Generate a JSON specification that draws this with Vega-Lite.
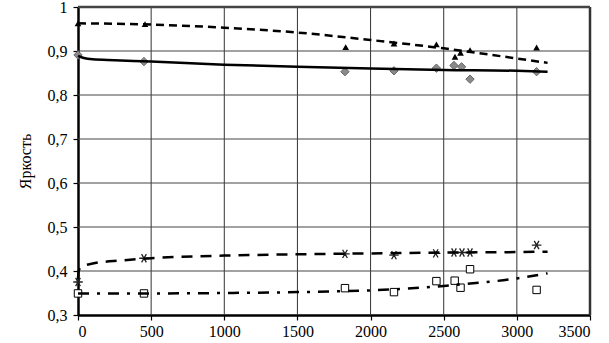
{
  "$schema": "https://vega.github.io/schema/vega-lite/v6.json",
  "width": 512,
  "height": 308,
  "autosize": {"type": "none"},
  "padding": {"left": 78, "top": 7, "right": 19, "bottom": 28},
  "view": {"stroke": null},
  "datasets": {
    "gx": [{"x": 500, "w": 1}, {"x": 1000, "w": 1}, {"x": 1500, "w": 1}, {"x": 2000, "w": 1}, {"x": 2500, "w": 1}, {"x": 3000, "w": 1}, {"x": 3500, "w": 2.5}],
    "gy": [{"y": 0.4, "w": 1}, {"y": 0.5, "w": 1}, {"y": 0.6, "w": 1}, {"y": 0.7, "w": 1}, {"y": 0.8, "w": 1}, {"y": 0.9, "w": 1}, {"y": 1, "w": 2.5}],
    "pts": [
      {"s": "A", "x": 0, "y": 0.963},
      {"s": "A", "x": 458, "y": 0.961},
      {"s": "A", "x": 1830, "y": 0.909},
      {"s": "A", "x": 2160, "y": 0.917},
      {"s": "A", "x": 2450, "y": 0.915},
      {"s": "A", "x": 2577, "y": 0.887},
      {"s": "A", "x": 2615, "y": 0.896},
      {"s": "A", "x": 2680, "y": 0.902},
      {"s": "A", "x": 3135, "y": 0.908},
      {"s": "B", "x": 0, "y": 0.891},
      {"s": "B", "x": 451, "y": 0.876},
      {"s": "B", "x": 1825, "y": 0.853},
      {"s": "B", "x": 2160, "y": 0.855},
      {"s": "B", "x": 2450, "y": 0.861},
      {"s": "B", "x": 2570, "y": 0.867},
      {"s": "B", "x": 2622, "y": 0.864},
      {"s": "B", "x": 2680, "y": 0.836},
      {"s": "B", "x": 3135, "y": 0.853},
      {"s": "C", "x": 0, "y": 0.375},
      {"s": "C", "x": 451, "y": 0.429},
      {"s": "C", "x": 1825, "y": 0.439},
      {"s": "C", "x": 2160, "y": 0.436},
      {"s": "C", "x": 2445, "y": 0.440},
      {"s": "C", "x": 2570, "y": 0.442},
      {"s": "C", "x": 2625, "y": 0.442},
      {"s": "C", "x": 2680, "y": 0.442},
      {"s": "C", "x": 3135, "y": 0.459},
      {"s": "D", "x": 0, "y": 0.349},
      {"s": "D", "x": 451, "y": 0.349},
      {"s": "D", "x": 1825, "y": 0.361},
      {"s": "D", "x": 2160, "y": 0.352},
      {"s": "D", "x": 2450, "y": 0.377},
      {"s": "D", "x": 2575, "y": 0.378},
      {"s": "D", "x": 2615, "y": 0.362},
      {"s": "D", "x": 2680, "y": 0.404},
      {"s": "D", "x": 3135, "y": 0.357}
    ],
    "trend": [
      {"s": "A", "x": 0, "y": 0.963},
      {"s": "A", "x": 500, "y": 0.960},
      {"s": "A", "x": 1000, "y": 0.953},
      {"s": "A", "x": 1500, "y": 0.942},
      {"s": "A", "x": 2000, "y": 0.925},
      {"s": "A", "x": 2500, "y": 0.906},
      {"s": "A", "x": 3000, "y": 0.883},
      {"s": "A", "x": 3210, "y": 0.873},
      {"s": "B", "x": 0, "y": 0.889},
      {"s": "B", "x": 40, "y": 0.884},
      {"s": "B", "x": 100, "y": 0.881},
      {"s": "B", "x": 250, "y": 0.879},
      {"s": "B", "x": 500, "y": 0.876},
      {"s": "B", "x": 1000, "y": 0.869},
      {"s": "B", "x": 1500, "y": 0.864},
      {"s": "B", "x": 2000, "y": 0.860},
      {"s": "B", "x": 2500, "y": 0.857},
      {"s": "B", "x": 3000, "y": 0.855},
      {"s": "B", "x": 3210, "y": 0.853},
      {"s": "C", "x": 0, "y": 0.382},
      {"s": "C", "x": 5, "y": 0.400},
      {"s": "C", "x": 20, "y": 0.409},
      {"s": "C", "x": 100, "y": 0.417},
      {"s": "C", "x": 300, "y": 0.424},
      {"s": "C", "x": 500, "y": 0.429},
      {"s": "C", "x": 1000, "y": 0.435},
      {"s": "C", "x": 1500, "y": 0.438},
      {"s": "C", "x": 2000, "y": 0.440},
      {"s": "C", "x": 2500, "y": 0.442},
      {"s": "C", "x": 3000, "y": 0.443},
      {"s": "C", "x": 3210, "y": 0.444},
      {"s": "D", "x": 0, "y": 0.349},
      {"s": "D", "x": 500, "y": 0.349},
      {"s": "D", "x": 1000, "y": 0.350},
      {"s": "D", "x": 1500, "y": 0.352},
      {"s": "D", "x": 1800, "y": 0.354},
      {"s": "D", "x": 2000, "y": 0.356},
      {"s": "D", "x": 2200, "y": 0.359},
      {"s": "D", "x": 2500, "y": 0.366},
      {"s": "D", "x": 2700, "y": 0.372},
      {"s": "D", "x": 3000, "y": 0.383},
      {"s": "D", "x": 3210, "y": 0.395}
    ]
  },
  "layer": [
    {
      "data": {"name": "gx"},
      "mark": {"type": "rule", "color": "#333333"},
      "encoding": {
        "x": {
          "field": "x",
          "type": "quantitative",
          "scale": {"domain": [0, 3500], "nice": false, "zero": false},
          "axis": {
            "title": null,
            "values": [0, 500, 1000, 1500, 2000, 2500, 3000, 3500],
            "format": "d",
            "labelFont": "Liberation Serif",
            "labelFontSize": 16,
            "labelColor": "black",
            "labelPadding": 3,
            "grid": false,
            "domainColor": "black",
            "domainWidth": 2.5,
            "tickColor": "black",
            "tickSize": 5,
            "tickWidth": 1.2
          }
        },
        "y": {"datum": 0.3, "type": "quantitative"},
        "y2": {"datum": 1},
        "strokeWidth": {"field": "w", "type": "quantitative", "scale": null}
      }
    },
    {
      "data": {"name": "gy"},
      "mark": {"type": "rule", "color": "#444444"},
      "encoding": {
        "y": {
          "field": "y",
          "type": "quantitative",
          "scale": {"domain": [0.3, 1], "nice": false, "zero": false},
          "axis": {
            "title": "Яркость",
            "titleFont": "Liberation Serif",
            "titleFontSize": 16,
            "titleFontWeight": "normal",
            "titleColor": "black",
            "titlePadding": 14,
            "values": [0.3, 0.4, 0.5, 0.6, 0.7, 0.8, 0.9, 1],
            "labelExpr": "datum.value == 1 ? '1' : replace(format(datum.value, '.1f'), '.', ',')",
            "labelFont": "Liberation Serif",
            "labelFontSize": 16,
            "labelColor": "black",
            "labelPadding": 6,
            "grid": false,
            "domainColor": "black",
            "domainWidth": 2.5,
            "tickColor": "black",
            "tickSize": 5,
            "tickWidth": 1.2
          }
        },
        "x": {"datum": 0, "type": "quantitative"},
        "x2": {"datum": 3500},
        "strokeWidth": {"field": "w", "type": "quantitative", "scale": null}
      }
    },
    {
      "data": {"name": "pts"},
      "transform": [{"filter": "datum.s == 'A'"}],
      "mark": {"type": "point", "shape": "triangle-up", "filled": true, "color": "black", "size": 45, "opacity": 1},
      "encoding": {"x": {"field": "x", "type": "quantitative"}, "y": {"field": "y", "type": "quantitative"}}
    },
    {
      "data": {"name": "pts"},
      "transform": [{"filter": "datum.s == 'B'"}],
      "mark": {"type": "point", "shape": "diamond", "filled": true, "fill": "#8a8a8a", "stroke": "#666666", "strokeWidth": 1, "size": 70, "opacity": 1},
      "encoding": {"x": {"field": "x", "type": "quantitative"}, "y": {"field": "y", "type": "quantitative"}}
    },
    {
      "data": {"name": "pts"},
      "transform": [{"filter": "datum.s == 'C'"}],
      "mark": {"type": "point", "shape": "M-1,0L1,0M-0.5,-0.87L0.5,0.87M-0.5,0.87L0.5,-0.87", "filled": false, "stroke": "#222222", "strokeWidth": 1.3, "size": 90, "opacity": 1},
      "encoding": {"x": {"field": "x", "type": "quantitative"}, "y": {"field": "y", "type": "quantitative"}}
    },
    {
      "data": {"name": "pts"},
      "transform": [{"filter": "datum.s == 'D'"}],
      "mark": {"type": "point", "shape": "square", "filled": true, "fill": "white", "stroke": "black", "strokeWidth": 1, "size": 55, "opacity": 1},
      "encoding": {"x": {"field": "x", "type": "quantitative"}, "y": {"field": "y", "type": "quantitative"}}
    },
    {
      "data": {"name": "trend"},
      "transform": [{"filter": "datum.s == 'A'"}],
      "mark": {"type": "line", "color": "black", "strokeWidth": 2.5, "strokeDash": [8, 5], "interpolate": "monotone"},
      "encoding": {"x": {"field": "x", "type": "quantitative"}, "y": {"field": "y", "type": "quantitative"}}
    },
    {
      "data": {"name": "trend"},
      "transform": [{"filter": "datum.s == 'B'"}],
      "mark": {"type": "line", "color": "black", "strokeWidth": 2.5, "interpolate": "monotone"},
      "encoding": {"x": {"field": "x", "type": "quantitative"}, "y": {"field": "y", "type": "quantitative"}}
    },
    {
      "data": {"name": "trend"},
      "transform": [{"filter": "datum.s == 'C'"}],
      "mark": {"type": "line", "color": "black", "strokeWidth": 2.5, "strokeDash": [11, 8], "interpolate": "monotone"},
      "encoding": {"x": {"field": "x", "type": "quantitative"}, "y": {"field": "y", "type": "quantitative"}}
    },
    {
      "data": {"name": "trend"},
      "transform": [{"filter": "datum.s == 'D'"}],
      "mark": {"type": "line", "color": "black", "strokeWidth": 2.5, "strokeDash": [11, 8, 3, 8], "interpolate": "monotone"},
      "encoding": {"x": {"field": "x", "type": "quantitative"}, "y": {"field": "y", "type": "quantitative"}}
    }
  ]
}
